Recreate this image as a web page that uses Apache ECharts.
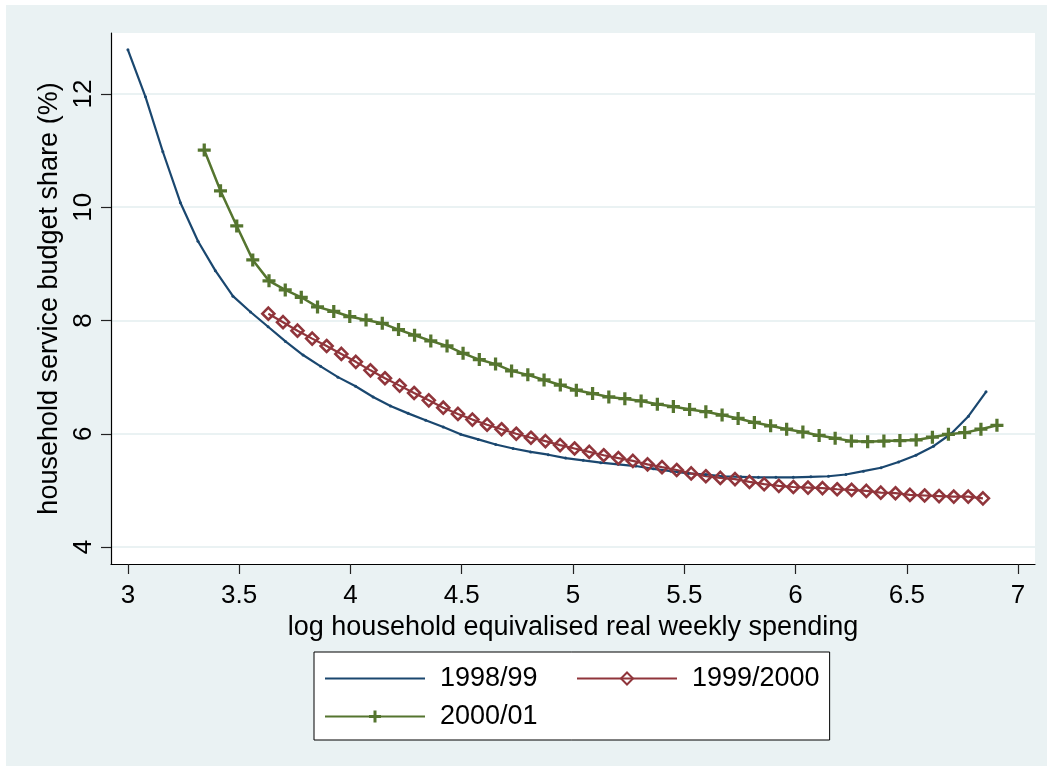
<!DOCTYPE html>
<html>
<head>
<meta charset="utf-8">
<script src="https://cdn.jsdelivr.net/npm/echarts@6/dist/echarts.min.js"></script>
<style>
  html, body { margin: 0; padding: 0; background: #ffffff; }
  #chart { position: absolute; left: 6px; top: 5px; width: 1041px; height: 761px; }
</style>
</head>
<body>
<div id="chart"></div>
<script>
// Tick positions on both axes
const xTicks = [3, 3.5, 4, 4.5, 5, 5.5, 6, 6.5, 7];
const yTicks = [4, 6, 8, 10, 12];

// Survey years
const seriesNames = ['1998/99', '1999/2000', '2000/01'];

// 1998/99: service share by log equivalised spending
const x1998 = [3.000, 3.079, 3.157, 3.236, 3.315, 3.393, 3.472, 3.551, 3.630, 3.708,
               3.787, 3.866, 3.944, 4.023, 4.102, 4.180, 4.259, 4.338, 4.417, 4.495,
               4.574, 4.653, 4.731, 4.810, 4.889, 4.967, 5.046, 5.125, 5.203, 5.282,
               5.361, 5.440, 5.518, 5.597, 5.676, 5.754, 5.833, 5.912, 5.990, 6.069,
               6.148, 6.226, 6.305, 6.384, 6.463, 6.541, 6.620, 6.699, 6.777, 6.856];
const y1998 = [12.78, 11.95, 10.98, 10.08, 9.40, 8.88, 8.43, 8.15, 7.89, 7.63,
               7.39, 7.19, 7.00, 6.84, 6.65, 6.49, 6.36, 6.24, 6.12, 5.99,
               5.90, 5.81, 5.74, 5.68, 5.63, 5.57, 5.53, 5.49, 5.46, 5.43,
               5.38, 5.34, 5.30, 5.28, 5.25, 5.24, 5.23, 5.23, 5.23, 5.24,
               5.25, 5.28, 5.34, 5.40, 5.50, 5.62, 5.78, 6.00, 6.31, 6.74];

// 1999/2000
const x1999 = [3.631, 3.697, 3.762, 3.828, 3.893, 3.959, 4.024, 4.090, 4.155, 4.221,
               4.286, 4.352, 4.417, 4.483, 4.548, 4.614, 4.679, 4.745, 4.811, 4.876,
               4.942, 5.007, 5.073, 5.138, 5.204, 5.269, 5.335, 5.400, 5.466, 5.531,
               5.597, 5.662, 5.728, 5.793, 5.859, 5.925, 5.990, 6.056, 6.121, 6.187,
               6.252, 6.318, 6.383, 6.449, 6.514, 6.580, 6.645, 6.711, 6.776, 6.842];
const y1999 = [8.12, 7.97, 7.82, 7.68, 7.55, 7.41, 7.27, 7.12, 6.98, 6.85,
               6.72, 6.59, 6.46, 6.35, 6.25, 6.16, 6.08, 6.00, 5.93, 5.87,
               5.80, 5.74, 5.68, 5.62, 5.57, 5.52, 5.46, 5.41, 5.36, 5.30,
               5.25, 5.22, 5.20, 5.15, 5.11, 5.08, 5.06, 5.05, 5.04, 5.02,
               5.01, 4.99, 4.96, 4.95, 4.92, 4.91, 4.90, 4.89, 4.89, 4.86];

// 2000/01
const x2000 = [3.343, 3.416, 3.489, 3.561, 3.634, 3.707, 3.779, 3.852, 3.925, 3.997,
               4.070, 4.143, 4.216, 4.288, 4.361, 4.434, 4.506, 4.579, 4.652, 4.724,
               4.797, 4.870, 4.943, 5.015, 5.088, 5.161, 5.233, 5.306, 5.379, 5.451,
               5.524, 5.597, 5.670, 5.742, 5.815, 5.888, 5.960, 6.033, 6.106, 6.178,
               6.251, 6.324, 6.397, 6.469, 6.542, 6.615, 6.687, 6.760, 6.833, 6.905];
const y2000 = [11.01, 10.29, 9.67, 9.07, 8.70, 8.54, 8.41, 8.24, 8.16, 8.07,
               8.01, 7.95, 7.84, 7.74, 7.64, 7.55, 7.42, 7.31, 7.23, 7.11,
               7.04, 6.95, 6.86, 6.77, 6.71, 6.65, 6.62, 6.58, 6.52, 6.48,
               6.43, 6.39, 6.33, 6.27, 6.20, 6.14, 6.08, 6.03, 5.97, 5.92,
               5.87, 5.86, 5.87, 5.88, 5.89, 5.94, 5.99, 6.02, 6.08, 6.15];

const FONT = "'Liberation Sans', Arial, Helvetica, sans-serif";
const NAVY = '#1a476f';
const MAROON = '#90353b';
const FOREST = '#55752f';
const PLUS = 'path://M4.5,0H7.5V4.5H12V7.5H7.5V12H4.5V7.5H0V4.5H4.5Z';

const pairs = (xs, ys) => xs.map((x, i) => [x, ys[i]]);

const chart = echarts.init(document.getElementById('chart'), null, { renderer: 'canvas' });

chart.setOption({
  animation: false,
  backgroundColor: '#eaf2f3',
  textStyle: { fontFamily: FONT },
  grid: {
    left: 105, top: 28, right: 12, bottom: 202,
    show: true, backgroundColor: '#ffffff', borderWidth: 0
  },
  xAxis: {
    type: 'value',
    min: 2.924, max: 7.076,
    name: 'log household equivalised real weekly spending',
    nameLocation: 'middle',
    nameGap: 45,
    nameTextStyle: { fontSize: 27, color: '#000', fontFamily: FONT },
    axisLine: { show: true, onZero: false, lineStyle: { color: '#000', width: 1.2 } },
    axisTick: { show: true, customValues: xTicks, length: 10, lineStyle: { color: '#222', width: 1.2 } },
    axisLabel: { customValues: xTicks, fontSize: 26, color: '#000', margin: 19, fontFamily: FONT },
    splitLine: { show: false }
  },
  yAxis: {
    type: 'value',
    min: 3.70, max: 13.077,
    name: 'household service budget share (%)',
    nameLocation: 'middle',
    nameGap: 45,
    nameRotate: 90,
    nameTextStyle: { fontSize: 27, color: '#000', fontFamily: FONT },
    axisLine: { show: true, onZero: false, lineStyle: { color: '#000', width: 1.2 } },
    axisTick: { show: true, customValues: yTicks, length: 10, lineStyle: { color: '#222', width: 1.2 } },
    axisLabel: { customValues: yTicks, rotate: 90, fontSize: 26, color: '#000', margin: 14, fontFamily: FONT },
    splitLine: { show: true, lineStyle: { color: '#eaf2f3', width: 2 } }
  },
  legend: {
    left: 308, top: 647,
    orient: 'horizontal',
    width: 510,
    padding: [13, 10, 10, 10],
    itemGap: 11,
    itemWidth: 100,
    itemHeight: 15,
    selectedMode: false,
    backgroundColor: '#ffffff',
    borderColor: '#000',
    borderWidth: 1,
    borderRadius: 0,
    textStyle: {
      fontSize: 27, color: '#000', fontFamily: FONT,
      width: 125, lineHeight: 26, padding: [0, 0, 0, 10]
    },
    data: [
      { name: seriesNames[0], itemStyle: { color: 'transparent' } },
      { name: seriesNames[1] },
      { name: seriesNames[2] }
    ]
  },
  series: [
    {
      name: seriesNames[0],
      type: 'line',
      data: pairs(x1998, y1998),
      symbol: 'circle',
      symbolSize: 3,
      showAllSymbol: true,
      itemStyle: { color: NAVY },
      lineStyle: { color: NAVY, width: 2.2 },
      emphasis: { disabled: true }
    },
    {
      name: seriesNames[1],
      type: 'line',
      data: pairs(x1999, y1999),
      symbol: 'diamond',
      symbolSize: 12,
      showAllSymbol: true,
      itemStyle: { color: 'rgba(0,0,0,0)', borderColor: MAROON, borderWidth: 2.6 },
      lineStyle: { color: MAROON, width: 2.2 },
      emphasis: { disabled: true }
    },
    {
      name: seriesNames[2],
      type: 'line',
      data: pairs(x2000, y2000),
      symbol: PLUS,
      symbolSize: 13,
      showAllSymbol: true,
      itemStyle: { color: FOREST },
      lineStyle: { color: FOREST, width: 2.5 },
      emphasis: { disabled: true }
    }
  ]
});
</script>
</body>
</html>
